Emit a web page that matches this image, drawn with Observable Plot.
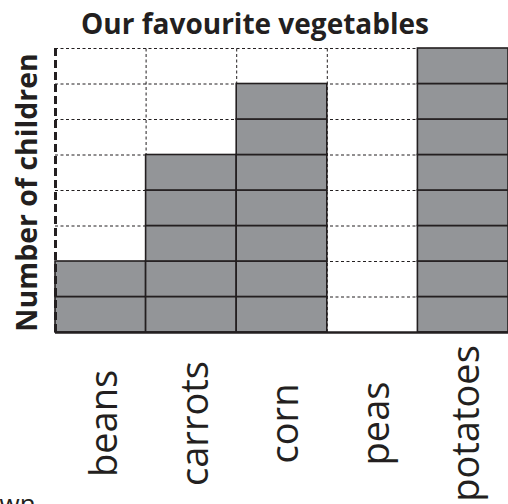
<!DOCTYPE html>
<html>
<head>
<meta charset="utf-8">
<script src="https://cdn.jsdelivr.net/npm/d3@7"></script>
<script src="https://cdn.jsdelivr.net/npm/@observablehq/plot@0.6"></script>
<style>
  html, body { margin: 0; padding: 0; background: #fff; overflow: hidden; }
</style>
</head>
<body>
<div id="chart"></div>
<script>
const title = "Our favourite vegetables";
const yLabel = "Number of children";
const categories = ["beans", "carrots", "corn", "peas", "potatoes"];
const counts = [2, 5, 7, 0, 8];
const yMax = 8;
const gridValues = d3.range(1, yMax + 1);
const boundaries = d3.range(1, categories.length);
const footText = "wn";

const cells = categories.flatMap((c, i) => d3.range(counts[i]).map(k => ({c, i, k})));
const labels = categories.map((c, i) => ({c, i}));

const ink = "#231f20";

const chart = Plot.plot({
  width: 508,
  height: 504,
  marginLeft: 55,
  marginRight: 0,
  marginTop: 48,
  marginBottom: 172,
  style: {background: "white", fontFamily: "'Open Sans', sans-serif", overflow: "hidden"},
  x: {type: "linear", domain: [0, categories.length], axis: null},
  y: {type: "linear", domain: [0, yMax], axis: null},
  marks: [
    Plot.ruleY(gridValues, {x1: 0, x2: categories.length, stroke: ink, strokeWidth: 1, strokeDasharray: "3,2.5"}),
    Plot.ruleX(boundaries, {y1: 0, y2: yMax, stroke: ink, strokeWidth: 1, strokeDasharray: "3,2.5"}),
    Plot.rect(cells, {x1: d => d.i, x2: d => d.i + 1, y1: d => d.k, y2: d => d.k + 1,
      fill: "#939598", stroke: ink, strokeWidth: 1.6}),
    Plot.ruleX([0], {y1: 0, y2: yMax, stroke: ink, strokeWidth: 3, strokeDasharray: "8,4"}),
    Plot.ruleY([0], {x1: 0, x2: categories.length, stroke: ink, strokeWidth: 2.5}),
    Plot.text(labels, {x: d => d.i + 0.5, y: 0, text: d => d.c, rotate: -90,
      textAnchor: "middle", dx: 4, dy: 91, fontSize: 38, fill: ink,
      fontFamily: "'Open Sans', sans-serif"}),
    Plot.text([yLabel], {frameAnchor: "left", textAnchor: "middle", rotate: -90, dx: -28, dy: 2,
      fontSize: 28.5, fontWeight: "bold", fill: ink, fontFamily: "'Open Sans', sans-serif"}),
    Plot.text([title], {frameAnchor: "top", dx: -27, dy: -34,
      fontSize: 28, fontWeight: "bold", fill: ink, fontFamily: "'Open Sans', sans-serif"}),
    Plot.text([footText], {frameAnchor: "bottom-left", textAnchor: "start", dx: -56, dy: 180,
      fontSize: 26, fill: ink, fontFamily: "'Open Sans', sans-serif"})
  ]
});
document.getElementById("chart").append(chart);
</script>
</body>
</html>
